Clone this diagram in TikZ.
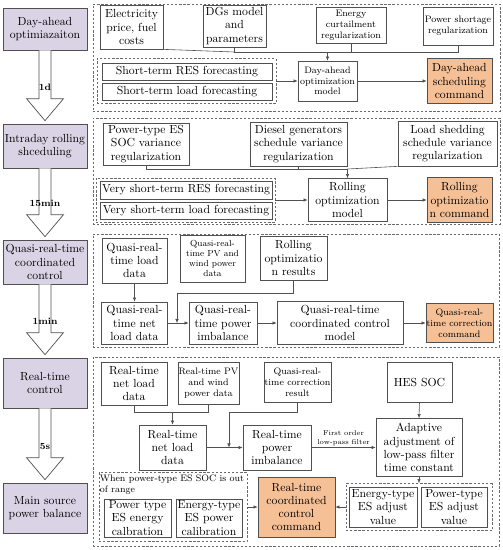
\documentclass[tikz,border=0pt]{standalone}
\usepackage{tikz}
\usetikzlibrary{arrows.meta, calc}
\definecolor{lav}{RGB}{218,211,229}
\definecolor{peach}{RGB}{246,192,150}
\definecolor{edge}{RGB}{80,80,80}

\begin{document}
\begin{tikzpicture}[x=0.03cm, y=-0.03cm,
    every node/.style={font=\fontsize{10}{11.3}\selectfont, align=center, inner sep=0.5pt},
    wh/.style 2 args={minimum width=#1*0.03cm, minimum height=#2*0.03cm},
    box/.style={draw=edge, line width=0.6pt, fill=white},
    side/.style={box, fill=lav},
    cmd/.style={box, fill=peach},
    grp/.style={draw=edge!85, line width=0.5pt, dash pattern=on 2pt off 1.5pt},
    sm/.style={font=\fontsize{8}{9.2}\selectfont},
    ln/.style={draw=edge, line width=0.5pt},
    arr/.style={ln, -{Latex[length=3.5pt,width=3pt]}},
    flow/.style={draw=edge, line width=0.6pt, fill=white}]
  \useasboundingbox (0,0) rectangle (503,550);

  % time scales on the left
  \node[side, wh={84}{42}] (day) at (45,29) {Day-ahead\\optimiazaiton};
  \node[side, wh={84}{44}] (intra) at (45,146) {Intraday rolling\\shceduling};
  \node[side, wh={84}{44}] (quasi) at (45,262) {Quasi-real-time\\coordinated\\control};
  \node[side, wh={84}{50}] (rtc) at (45,383) {Real-time\\control};
  \node[side, wh={84}{50}] (main) at (45,508) {Main source\\power balance};
  \foreach \a/\b/\t in {day/intra/1d, intra/quasi/15min, quasi/rtc/1min, rtc/main/5s}{
    \draw[flow] ($(\a.south)+(-6,0)$) -- ($(\b.north)+(-6,-25)$) -- ($(\b.north)+(-18.5,-25)$)
      -- ($(\b.north)+(0,-3)$) -- ($(\b.north)+(18.5,-25)$) -- ($(\b.north)+(6,-25)$) -- ($(\a.south)+(6,0)$);
    \node[font=\fontsize{8}{9}\selectfont\bfseries] (t\b) at ($(\b.north)+(0,-36)$) {\t};
  }

  % day-ahead
  \node[grp, wh={407}{107}] (g1) at (296.5,57.5) {};
  \node[grp, wh={179}{45}] (fc1) at (186.5,81) {};
  \node[box, wh={63}{44}] (elec) at (131.5,27) {Electricity\\price, fuel\\costs};
  \node[box, wh={63}{42}] (dgs) at (234.5,26) {DGs model\\and\\parameters};
  \node[box, sm, wh={70}{36}] (curt) at (351,25) {Energy\\curtailment\\regularization};
  \node[box, sm, wh={70}{38}] (short) at (458,26) {Power shortage\\regularization};
  \node[box, wh={170}{17}] (res1) at (187,71.5) {Short-term RES forecasting};
  \node[box, wh={170}{17}] (load1) at (187,91.5) {Short-term load forecasting};
  \node[box, sm, wh={59}{40}] (damodel) at (327.5,81) {Day-ahead\\optimization\\model};
  \node[cmd, wh={65}{45}] (dacmd) at (459.5,81) {Day-ahead\\scheduling\\command};
  \coordinate (bus1) at (327.5,52);
  \draw[ln] (elec.south east) -- (dgs.south |- bus1);
  \draw[ln] (dgs.south) -- (dgs.south |- bus1) -- (short.south |- bus1) -- (short.south);
  \draw[ln] (curt.south) -- (curt.south |- bus1);
  \draw[arr] (bus1) -- (damodel.north);
  \draw[arr] (fc1.east) -- (damodel.west);
  \draw[arr] (damodel.east) -- (dacmd.west);

  % intraday
  \node[grp, wh={407}{106}] (g2) at (296.5,171) {};
  \node[grp, wh={179}{44}] (fc2) at (185.5,200) {};
  \node[box, wh={86}{42}] (ptes) at (146,144) {Power-type ES\\SOC variance\\regularization};
  \node[box, wh={97}{44}] (dgsv) at (298.5,144) {Diesel generators\\schedule variance\\regularization};
  \node[box, wh={99}{45}] (lsv) at (447.5,143.5) {Load shedding\\schedule variance\\regularization};
  \node[box, wh={172}{18}] (res2) at (186,190) {Very short-term RES forecasting};
  \node[box, wh={172}{17}] (load2) at (186,210.5) {Very short-term load forecasting};
  \node[box, wh={79}{43}] (romodel) at (347.5,200) {Rolling\\optimization\\model};
  \node[cmd, wh={65}{45}] (rocmd) at (459.5,200) {Rolling\\optimizatio\\n command};
  \coordinate (bus2) at (347.5,169);
  \draw[ln] (ptes.south) -- (ptes.south |- bus2) -- (bus2);
  \draw[ln] (dgsv.south) -- (dgsv.south |- bus2);
  \draw[ln] (lsv.south west) -- (bus2);
  \draw[arr] (bus2) -- (romodel.north);
  \draw[arr] (fc2.east) -- (romodel.west);
  \draw[arr] (romodel.east) -- (rocmd.west);

  % quasi-real-time
  \node[grp, wh={406}{113}] (g3) at (296,290.5) {};
  \node[box, wh={65}{45}] (qload) at (134.5,260.5) {Quasi-real-\\time load\\data};
  \node[box, font=\fontsize{7.5}{8.6}\selectfont, wh={65}{47}] (qpv) at (212.5,258.5) {Quasi-real-\\time PV and\\wind power\\data};
  \node[box, wh={67}{44}] (rores) at (293.5,258) {Rolling\\optimizatio\\n results};
  \node[box, wh={66}{42}] (qnet) at (134.5,323) {Quasi-real-\\time net\\load data};
  \node[box, wh={68}{42}] (qimb) at (223,323) {Quasi-real-\\time power\\imbalance};
  \node[box, wh={126}{43}] (qmodel) at (340,323) {Quasi-real-time\\coordinated control\\model};
  \node[cmd, sm, wh={65}{39}] (qcmd) at (459.5,323) {Quasi-real-\\time correction\\command};
  \coordinate (j3) at (177,323);
  \draw[arr] (qload.south) -- (qnet.north);
  \draw[arr] (qnet.east) -- (qimb.west);
  \draw[arr] (rores.south) -- ++(0,13) -| (j3);
  \draw[arr] (qimb.east) -- (qmodel.west);
  \draw[arr] (qmodel.east) -- (qcmd.west);

  % real-time
  \node[grp, wh={406}{189}] (g4) at (296,451.5) {};
  \node[grp, wh={148}{69}] (cal) at (173,507) {};
  \node[grp, wh={146}{47}] (adj) at (419,507) {};
  \node[box, wh={66}{43}] (rnet0) at (134,383.5) {Real-time\\net load\\data};
  \node[box, sm, wh={59}{42}] (rpv) at (208.5,383) {Real-time PV\\and wind\\power data};
  \node[box, sm, wh={65}{40}] (qres) at (297.5,382) {Quasi-real-\\time correction\\result};
  \node[box, wh={65}{40}] (hes) at (419.5,382) {HES SOC};
  \node[box, wh={67}{45}] (rnet) at (172.5,447.5) {Real-time\\net load\\data};
  \node[box, wh={68}{45}] (rimb) at (277,447.5) {Real-time\\power\\imbalance};
  \node[box, wh={86}{58}] (adapt) at (419,447.5) {Adaptive\\adjustment of\\low-pass filter\\time constant};
  \node[sm, anchor=north west, align=left] (cond) at (99,474) {When power-type ES SOC is out\\of range};
  \node[box, wh={67}{38}] (pcal) at (137.5,518) {Power type\\ES energy\\calbration};
  \node[box, wh={66}{38}] (ecal) at (209,518) {Energy-type\\ES power\\calibration};
  \node[cmd, wh={77}{60}] (rcmd) at (296.5,507) {Real-time\\coordinated\\control\\command};
  \node[box, wh={68}{40}] (eadj) at (383,507) {Energy-type\\ES adjust\\value};
  \node[box, wh={66}{40}] (padj) at (454,507) {Power-type\\ES adjust\\value};
  \coordinate (j4) at (172.5,411.5);
  \coordinate (j5) at (229,447.5);
  \draw[ln] (rnet0.south) -- ++(0,6.5) -| (rpv.south);
  \draw[arr] (j4) -- (rnet.north);
  \draw[arr] (qres.south) -- ++(0,10) -| (j5);
  \draw[arr] (rnet.east) -- (rimb.west);
  \draw[arr] (rimb.east) -- node[above=1pt, font=\fontsize{6}{7}\selectfont] (lpf) {First order\\low-pass filter} (adapt.west);
  \draw[arr] (hes.south) -- (adapt.north);
  \draw[arr] (adapt.south) -- (adj.north);
  \draw[arr] (adj.west) -- (rcmd.east);
  \draw[arr] (cal.east) -- (rcmd.west);
\end{tikzpicture}
\end{document}
